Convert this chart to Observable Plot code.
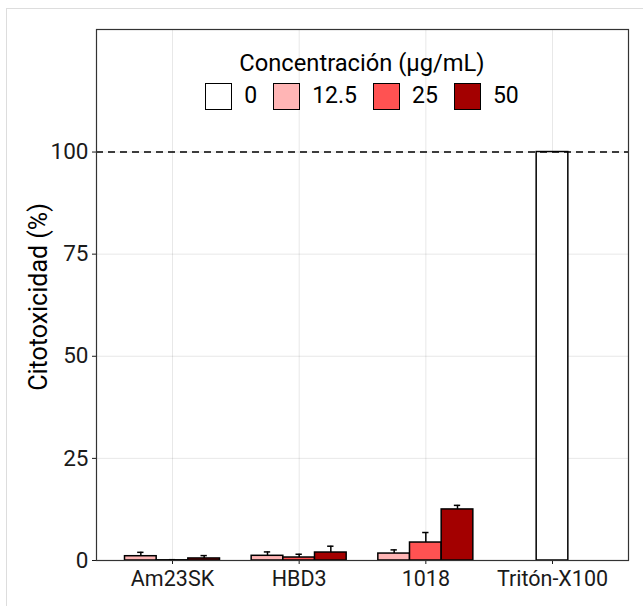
<!DOCTYPE html>
<html>
<head>
<meta charset="utf-8">
<script src="https://cdn.jsdelivr.net/npm/d3@7"></script>
<script src="https://cdn.jsdelivr.net/npm/@observablehq/plot@0.6"></script>
<style>
  body { margin: 0; background: #fff; }
  #wrap { position: relative; width: 643px; height: 606px; font-family: Roboto, sans-serif; color: #000; }
  #outer { position: absolute; left: 6px; top: 8px; right: 0; bottom: 0; border-left: 1.5px solid #dddddd; border-top: 1.5px solid #dddddd; pointer-events: none; }
  #legend { position: absolute; left: 96px; width: 532px; top: 48px; text-align: center; pointer-events: none; }
  #legend .title { font-size: 23.7px; line-height: 30px; }
  #legend .keys { display: flex; justify-content: center; align-items: center; margin-top: 4px; height: 28px; }
  #legend .key { width: 25px; height: 25px; border: 1.5px solid #000; margin-right: 12px; }
  #legend .lab { font-size: 23px; line-height: 28px; margin-right: 16px; }
  #legend .lab:last-child { margin-right: 0; }
  #chart { position: absolute; left: 0; top: 0; }
</style>
</head>
<body>
<div id="wrap">
  <div id="chart"></div>
  <div id="outer"></div>
  <div id="legend"></div>
</div>
<script>
// ---- data ----
const categories = ["Am23SK", "HBD3", "1018", "Tritón-X100"];
const concentrations = ["0", "12.5", "25", "50"];
const colors = ["#FFFFFF", "#FFB5B5", "#FF5252", "#A30000"];
const legendTitle = "Concentración (µg/mL)";
const yLabel = "Citotoxicidad (%)";
const yTicks = [0, 25, 50, 75, 100];
const referenceLine = [100];

const rowCategory = ["Am23SK", "Am23SK", "Am23SK", "HBD3", "HBD3", "HBD3", "1018", "1018", "1018", "Tritón-X100"];
const rowConc     = ["12.5",   "25",     "50",     "12.5", "25",   "50",   "12.5", "25",   "50",   "0"];
const means       = [1.05,     0.05,     0.5,      1.15,   0.73,   1.95,   1.7,    4.4,    12.5,   100];
const sds         = [0.95,     0.15,     0.7,      0.95,   0.8,    1.55,   0.9,    2.45,   1.0,    0];

// ---- build table (dodge, preserving single-bar width) ----
const dodgeTotal = 0.75;
const rows = rowCategory.map((c, i) => ({ cat: c, conc: rowConc[i], mean: means[i], sd: sds[i] }));
const maxN = d3.max(categories, c => rows.filter(r => r.cat === c).length);
const barW = dodgeTotal / maxN;
for (const c of categories) {
  const members = rows.filter(r => r.cat === c)
    .sort((a, b) => concentrations.indexOf(a.conc) - concentrations.indexOf(b.conc));
  const n = members.length;
  members.forEach((r, i) => {
    r.center = categories.indexOf(c) + (i - (n - 1) / 2) * barW;
  });
}
const errRows = rows.filter(r => r.sd > 0);
const capHalf = barW * 0.1;

const plot = Plot.plot({
  width: 643,
  height: 606,
  marginLeft: 96,
  marginRight: 15,
  marginTop: 29,
  marginBottom: 46,
  style: { fontFamily: "Roboto, sans-serif", fontSize: "22.5px", color: "#1a1a1a", background: "transparent" },
  x: {
    domain: [-0.6, categories.length - 1 + 0.6],
    ticks: categories.map((c, i) => i),
    tickFormat: i => categories[i],
    tickSize: 4,
    tickPadding: 6,
    grid: true,
    label: null
  },
  y: {
    domain: [0, 130],
    ticks: yTicks,
    tickSize: 4,
    tickPadding: 4,
    grid: true,
    label: null
  },
  color: { type: "ordinal", domain: concentrations, range: colors },
  marks: [
    Plot.rect(rows, {
      x1: d => d.center - barW / 2,
      x2: d => d.center + barW / 2,
      y1: 0,
      y2: "mean",
      fill: d => d.conc,
      stroke: "#000",
      strokeWidth: 1.5
    }),
    Plot.ruleX(errRows, { x: "center", y1: "mean", y2: d => d.mean + d.sd, stroke: "#000", strokeWidth: 1.5 }),
    Plot.ruleY(errRows, { x1: d => d.center - capHalf, x2: d => d.center + capHalf, y: d => d.mean + d.sd, stroke: "#000", strokeWidth: 1.5 }),
    Plot.ruleY(referenceLine, { stroke: "#000", strokeWidth: 1.6, strokeDasharray: "7,5" }),
    Plot.frame({ stroke: "#333", strokeWidth: 1.2 }),
    Plot.text([yLabel], { frameAnchor: "left", textAnchor: "middle", rotate: -90, dx: -58, dy: 2, fontSize: 25, fill: "#000" })
  ]
});
// category labels slightly smaller than numeric tick labels
plot.querySelectorAll("[aria-label='x-axis'] text, [aria-label='x-axis tick label'] text").forEach(el => el.setAttribute("font-size", "21.5px"));
document.getElementById("chart").appendChild(plot);

// ---- legend ----
const legend = document.getElementById("legend");
const t = document.createElement("div");
t.className = "title";
t.textContent = legendTitle;
legend.appendChild(t);
const keys = document.createElement("div");
keys.className = "keys";
concentrations.forEach((c, i) => {
  const k = document.createElement("div");
  k.className = "key";
  k.style.background = colors[i];
  keys.appendChild(k);
  const l = document.createElement("span");
  l.className = "lab";
  l.textContent = c;
  keys.appendChild(l);
});
legend.appendChild(keys);
</script>
</body>
</html>
